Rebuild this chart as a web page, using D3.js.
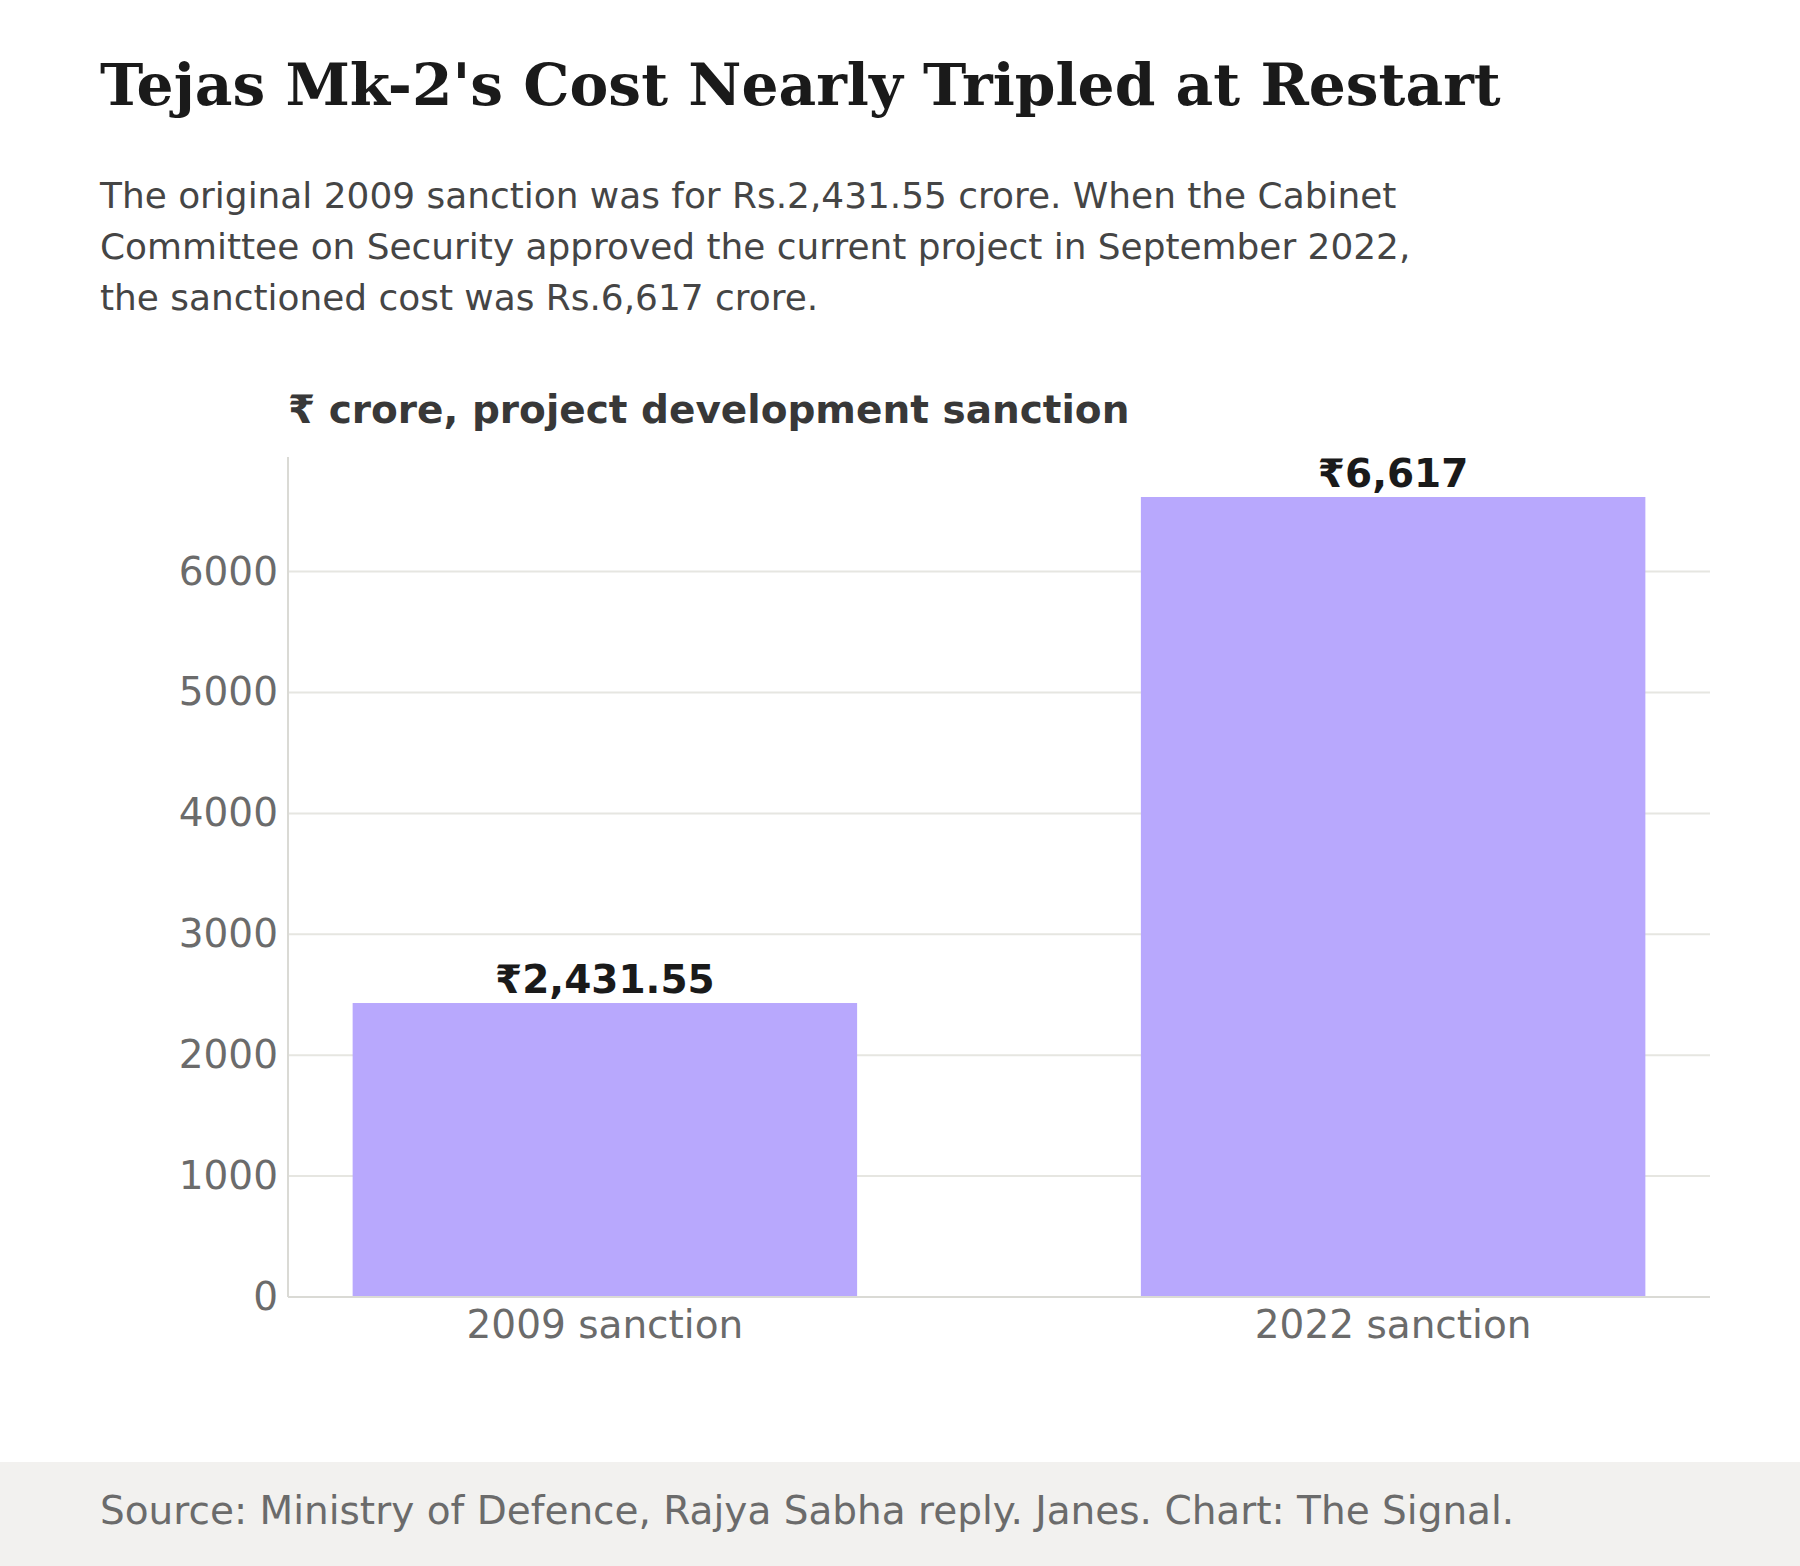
<!DOCTYPE html>
<html>
<head>
<meta charset="utf-8">
<script src="https://cdn.jsdelivr.net/npm/d3@7"></script>
<style>
  html, body { margin: 0; padding: 0; background: #ffffff; }
  svg { display: block; }
</style>
</head>
<body>
<svg id="chart" width="1800" height="1566"></svg>
<script>
// ---- Data ----
const categories = ["2009 sanction", "2022 sanction"];
const values = [2431.55, 6617];
const valueLabels = ["₹2,431.55", "₹6,617"];
const yTicks = [0, 1000, 2000, 3000, 4000, 5000, 6000];

const titleText = "Tejas Mk-2's Cost Nearly Tripled at Restart";
const subtitleLines = [
  "The original 2009 sanction was for Rs.2,431.55 crore. When the Cabinet",
  "Committee on Security approved the current project in September 2022,",
  "the sanctioned cost was Rs.6,617 crore."
];
const axisTitle = "₹ crore, project development sanction";
const sourceText = "Source: Ministry of Defence, Rajya Sabha reply. Janes. Chart: The Signal.";

// ---- Layout ----
const W = 1800, H = 1566;
const plot = { left: 288, right: 1710, top: 457, bottom: 1297 };
const sans = "'DejaVu Sans', sans-serif";
const serif = "'DejaVu Serif', serif";

const svg = d3.select("#chart");

svg.append("rect").attr("x", 0).attr("y", 0).attr("width", W).attr("height", H).attr("fill", "#ffffff");

// Title
svg.append("text")
  .attr("x", 100).attr("y", 105)
  .attr("font-family", serif).attr("font-weight", "bold").attr("font-size", 58.2)
  .attr("fill", "#1a1a1a")
  .text(titleText);

// Subtitle
svg.append("g").selectAll("text").data(subtitleLines).join("text")
  .attr("x", 100).attr("y", (d, i) => 208 + i * 51)
  .attr("font-family", sans).attr("font-size", 35.9)
  .attr("fill", "#454545")
  .text(d => d);

// Axis title
svg.append("text")
  .attr("x", plot.left).attr("y", 423)
  .attr("font-family", sans).attr("font-weight", "bold").attr("font-size", 39)
  .attr("fill", "#383838")
  .text(axisTitle);

// Scales
const maxV = d3.max(values) * 1.05;
const y = d3.scaleLinear().domain([0, maxV]).range([plot.bottom, plot.top]);
const x = d3.scaleBand().domain(categories).range([plot.left, plot.right])
  .paddingInner(0.36).paddingOuter(0.082);

// Gridlines
svg.append("g").selectAll("line").data(yTicks.filter(t => t > 0)).join("line")
  .attr("x1", plot.left).attr("x2", plot.right)
  .attr("y1", d => y(d)).attr("y2", d => y(d))
  .attr("stroke", "#e6e6e1").attr("stroke-width", 2);

// Bars
svg.append("g").selectAll("rect").data(values).join("rect")
  .attr("x", (d, i) => x(categories[i]))
  .attr("width", x.bandwidth())
  .attr("y", d => y(d))
  .attr("height", d => y(0) - y(d))
  .attr("fill", "#b8a8fd");

// Value labels
svg.append("g").selectAll("text").data(values).join("text")
  .attr("x", (d, i) => x(categories[i]) + x.bandwidth() / 2)
  .attr("y", d => y(d) - 10)
  .attr("text-anchor", "middle")
  .attr("font-family", sans).attr("font-weight", "bold").attr("font-size", 39)
  .attr("fill", "#1a1a1a")
  .text((d, i) => valueLabels[i]);

// Y axis
const yAxis = svg.append("g")
  .attr("transform", `translate(${plot.left},0)`)
  .call(d3.axisLeft(y).tickValues(yTicks).tickSize(0).tickPadding(10).tickFormat(d3.format("d")));
yAxis.select(".domain").remove();
yAxis.selectAll("text")
  .attr("font-family", sans).attr("font-size", 39).attr("fill", "#6b6b6b");

svg.append("line")
  .attr("x1", plot.left).attr("x2", plot.left)
  .attr("y1", plot.top).attr("y2", plot.bottom)
  .attr("stroke", "#dadad5").attr("stroke-width", 2);

// X axis
const xAxis = svg.append("g")
  .attr("transform", `translate(0,${plot.bottom})`)
  .call(d3.axisBottom(x).tickSize(0).tickPadding(13));
xAxis.select(".domain").remove();
xAxis.selectAll("text")
  .attr("font-family", sans).attr("font-size", 39).attr("fill", "#6b6b6b");

svg.append("line")
  .attr("x1", plot.left).attr("x2", plot.right)
  .attr("y1", plot.bottom).attr("y2", plot.bottom)
  .attr("stroke", "#dadad5").attr("stroke-width", 2);

// Footer
svg.append("rect").attr("x", 0).attr("y", 1462).attr("width", W).attr("height", H - 1462)
  .attr("fill", "#f2f1ef");
svg.append("text")
  .attr("x", 100).attr("y", 1524)
  .attr("font-family", sans).attr("font-size", 39)
  .attr("fill", "#6b6b6b")
  .text(sourceText);
</script>
</body>
</html>
